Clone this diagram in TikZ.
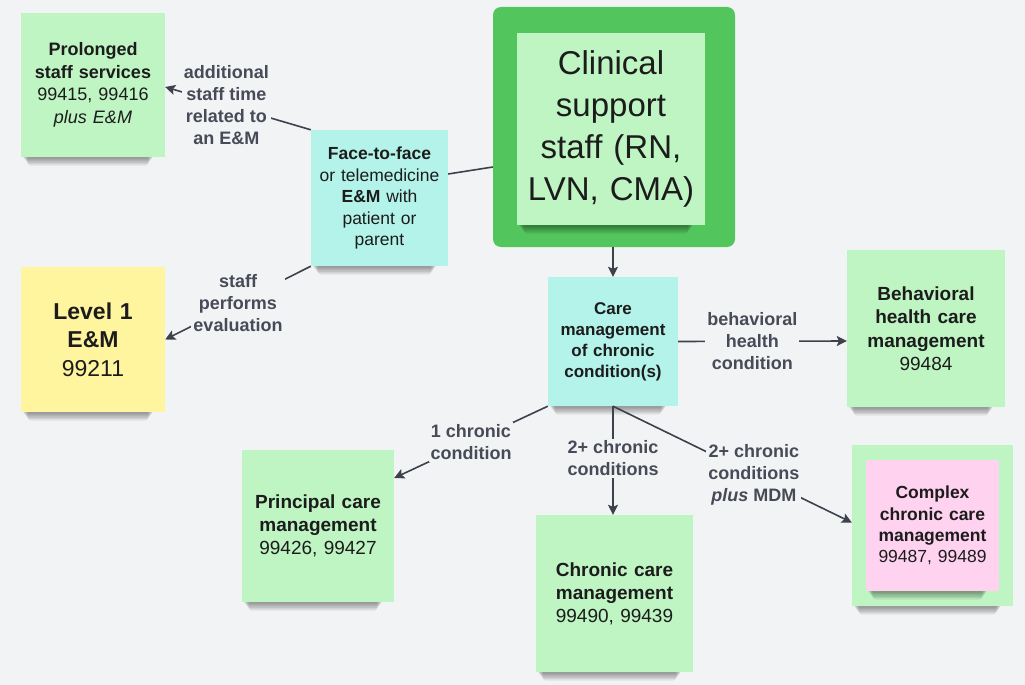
\documentclass[tikz,border=0pt]{standalone}
\usepackage{fontspec}
\setmainfont{Liberation Sans}
\usetikzlibrary{arrows.meta,calc}

\definecolor{bg}{HTML}{F2F3F5}
\definecolor{notegreen}{HTML}{BFF5C3}
\definecolor{notecyan}{HTML}{B3F3EA}
\definecolor{noteyellow}{HTML}{FFF59E}
\definecolor{notepink}{HTML}{FFD3F0}
\definecolor{framegreen}{HTML}{52C55D}
\definecolor{wire}{HTML}{3C414C}
\definecolor{lbltext}{HTML}{474B57}
\definecolor{ink}{HTML}{1C1C1C}

\pgfdeclarelayer{backdrop}
\pgfdeclarelayer{shade}
\pgfdeclarelayer{front}
\pgfsetlayers{backdrop,shade,main,front}

% soft shadow under the lower edge of a sticky note, on a given layer
\newcommand\noteshadow[2][shade]{%
  \begin{pgfonlayer}{#1}
    \foreach \k in {1,...,6}{%
      \fill[black,opacity=0.07,rounded corners=3pt]
        ($(#2.south west)+(1+\k,-5)$) rectangle ($(#2.south east)+(-11-\k,1.4*\k)$);}
  \end{pgfonlayer}}

\tikzset{
  note/.style={inner sep=0pt, align=center, text=ink},
  conn/.style={draw=wire, line width=1.6pt},
  arr/.style={conn, -{Stealth[length=10pt,width=10pt,inset=2pt]}},
  lbl/.style={fill=bg, inner sep=2pt, align=center, text=lbltext,
    font=\fontsize{18}{22}\selectfont\bfseries},
}

\begin{document}
\begin{tikzpicture}[x=1pt,y=-1pt]
\begin{pgfonlayer}{backdrop}
  \fill[bg] (0,0) rectangle (1025,685);
\end{pgfonlayer}
\useasboundingbox (0,0) rectangle (1025,685);

% central staff box
\node[fill=framegreen, rounded corners=8pt, minimum width=242pt, minimum height=240pt, inner sep=0pt]
  (cl) at (614,127) {};
\begin{pgfonlayer}{front}
\node[note, fill=notegreen, minimum width=188pt, minimum height=192pt, text width=188pt,
  font=\fontsize{33}{42}\selectfont] (clin) at (611,129)
  {Clinical\\support\\staff (RN,\\LVN, CMA)};
\end{pgfonlayer}
\noteshadow[main]{clin}

% left column
\node[note, fill=notegreen, minimum width=144pt, minimum height=144pt, text width=144pt,
  font=\fontsize{18}{22.5}\selectfont] (pro) at (93,85)
  {\textbf{Prolonged}\\\textbf{staff services}\\99415, 99416\\\textit{plus E\&M}};
\noteshadow{pro}

\node[note, fill=noteyellow, minimum width=144pt, minimum height=145pt, text width=144pt,
  font=\fontsize{23}{28.5}\selectfont] (lvl) at (93,339.5)
  {\textbf{Level 1}\\\textbf{E\&M}\\99211};
\noteshadow{lvl}

\node[note, fill=notecyan, minimum width=137pt, minimum height=136pt, text width=137pt,
  font=\fontsize{17.5}{21.5}\selectfont] (ftf) at (379.5,198)
  {\textbf{Face-to-face}\\or telemedicine\\\textbf{E\&M} with\\patient or\\parent};
\noteshadow{ftf}

% care management hub
\node[note, fill=notecyan, minimum width=130pt, minimum height=129pt, text width=130pt,
  font=\fontsize{17}{21}\selectfont\bfseries] (care) at (613,341.5)
  {Care\\management\\of chronic\\condition(s)};
\noteshadow{care}

% outcomes
\node[note, fill=notegreen, minimum width=158pt, minimum height=157pt, text width=158pt,
  font=\fontsize{19}{23.5}\selectfont] (beh) at (926,328.5)
  {\textbf{Behavioral}\\\textbf{health care}\\\textbf{management}\\99484};
\noteshadow{beh}

\node[note, fill=notegreen, minimum width=152pt, minimum height=152pt, text width=152pt,
  font=\fontsize{19}{23}\selectfont] (pri) at (318,526)
  {\textbf{Principal care}\\\textbf{management}\\99426, 99427};
\noteshadow{pri}

\node[note, fill=notegreen, minimum width=157pt, minimum height=157pt, text width=157pt,
  font=\fontsize{19}{23}\selectfont] (chr) at (614.5,593.5)
  {\textbf{Chronic care}\\\textbf{management}\\99490, 99439};
\noteshadow{chr}

\node[note, fill=notegreen, minimum width=161pt, minimum height=161pt] (cx) at (932.5,525.5) {};
\noteshadow{cx}
\begin{pgfonlayer}{front}
\node[note, fill=notepink, minimum width=133pt, minimum height=131pt, text width=133pt,
  font=\fontsize{17.5}{21.3}\selectfont] (cxi) at (932.5,525.5)
  {\textbf{Complex}\\\textbf{chronic care}\\\textbf{management}\\99487, 99489};
\end{pgfonlayer}
\noteshadow[main]{cxi}

% connectors
\draw[conn] ([yshift=24pt]ftf.east) -- ([yshift=-40pt]cl.west);
\draw[arr] (ftf.north west) -- node[lbl, pos=0.58]
  {additional\\staff time\\related to\\an E\&M} ([yshift=-2pt]pro.east);
\draw[arr] (ftf.south west) -- node[lbl, pos=0.5]
  {staff\\performs\\evaluation} (lvl.east);
\draw[arr] (care.north |- cl.south) -- (care.north);
\draw[arr] (care.east) -- node[lbl, pos=0.44]
  {behavioral\\health\\condition} ([yshift=-12.5pt]beh.west);
\draw[arr] (care.south west) -- node[lbl, pos=0.5]
  {1 chronic\\condition} ([yshift=48pt]pri.east);
\draw[arr] (care.south) -- node[lbl, pos=0.48]
  {2+ chronic\\conditions} (care.south |- chr.north);
\draw[arr] (care.south) -- node[lbl, pos=0.59]
  {2+ chronic\\conditions\\\textit{plus} MDM} ([yshift=3pt]cx.west);
\end{tikzpicture}
\end{document}
